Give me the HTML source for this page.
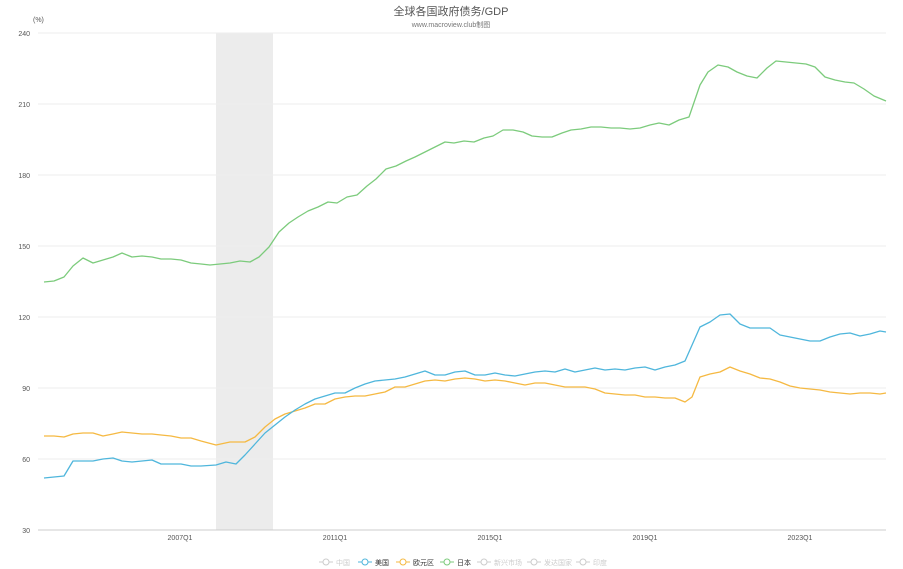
<!DOCTYPE html><html><head><meta charset="utf-8"><style>body{margin:0;background:#fff}svg{display:block}text{font-family:"Liberation Sans","Noto Sans CJK SC",sans-serif}</style></head><body>
<svg width="903" height="569" xmlns="http://www.w3.org/2000/svg">
<text x="451" y="15" font-size="11" fill="#555" text-anchor="middle">全球各国政府债务/GDP</text>
<text x="451" y="27" font-size="7" fill="#777" text-anchor="middle">www.macroview.club制图</text>
<text x="33" y="22" font-size="7" fill="#555">(%)</text>
<rect x="216" y="33" width="57" height="497" fill="#ececec"/>
<g stroke="#eee" stroke-width="1">
<line x1="38" y1="33" x2="886" y2="33"/><line x1="38" y1="104" x2="886" y2="104"/><line x1="38" y1="175" x2="886" y2="175"/><line x1="38" y1="246" x2="886" y2="246"/><line x1="38" y1="317" x2="886" y2="317"/><line x1="38" y1="388" x2="886" y2="388"/><line x1="38" y1="459" x2="886" y2="459"/></g>
<line x1="38" y1="530" x2="886" y2="530" stroke="#ccc"/>
<g font-size="7" fill="#555" text-anchor="end">
<text x="30" y="36">240</text><text x="30" y="107">210</text><text x="30" y="178">180</text><text x="30" y="249">150</text><text x="30" y="320">120</text><text x="30" y="391">90</text><text x="30" y="462">60</text><text x="30" y="533">30</text></g>
<g font-size="7" fill="#555" text-anchor="middle">
<text x="180" y="540">2007Q1</text><text x="335" y="540">2011Q1</text><text x="490" y="540">2015Q1</text><text x="645" y="540">2019Q1</text><text x="800" y="540">2023Q1</text></g>
<g fill="none" stroke-width="1.3" stroke-linejoin="round">
<polyline stroke="#7ccb7c" points="44,282 54,281 64,277 73,266 83,258 93,263 103,260 113,257 122,253 132,257 142,256 152,257 161,259 171,259 181,260 191,263 201,264 210,265 220,264 230,263 240,261 250,262 259,257 269,247 279,232 289,223 298,217 308,211 318,207 328,202 337,203 347,197 357,195 367,186 376,179 386,169 396,166 406,161 415,157 425,152 435,147 445,142 454,143 464,141 474,142 484,138 493,136 503,130 513,130 523,132 532,136 542,137 552,137 562,133 571,130 581,129 591,127 601,127 611,128 620,128 630,129 640,128 650,125 659,123 669,125 679,120 689,117 700,85 708,72 718,65 728,67 737,72 747,76 757,78 767,68 776,61 786,62 796,63 806,64 815,67 825,77 835,80 845,82 854,83 864,89 874,96 886,101"/>
<polyline stroke="#f5b942" points="44,436 54,436 64,437 73,434 83,433 93,433 103,436 113,434 122,432 132,433 142,434 152,434 161,435 171,436 181,438 191,438 201,441 216,445 230,442 245,442 255,437 265,427 275,419 285,414 295,411 305,408 315,404 325,404 335,399 345,397 355,396 365,396 375,394 385,392 395,387 405,387 415,384 425,381 435,380 445,381 455,379 465,378 475,379 485,381 495,380 505,381 515,383 525,385 535,383 545,383 555,385 565,387 575,387 585,387 595,389 605,393 615,394 625,395 635,395 645,397 655,397 665,398 675,398 685,402 692,397 700,377 710,374 720,372 730,367 740,371 750,374 760,378 770,379 780,382 790,386 800,388 810,389 820,390 830,392 840,393 850,394 860,393 870,393 880,394 886,393"/>
<polyline stroke="#4fb6dc" points="44,478 54,477 64,476 73,461 83,461 93,461 103,459 113,458 122,461 132,462 142,461 152,460 161,464 171,464 181,464 191,466 201,466 216,465 226,462 236,464 245,455 255,444 265,433 275,425 285,417 295,410 305,404 315,399 325,396 335,393 345,393 355,388 365,384 375,381 385,380 395,379 405,377 415,374 425,371 435,375 445,375 455,372 465,371 475,375 485,375 495,373 505,375 515,376 525,374 535,372 545,371 555,372 565,369 575,372 585,370 595,368 605,370 615,369 625,370 635,368 645,367 655,370 665,367 675,365 685,361 700,327 710,322 720,315 730,314 740,324 750,328 760,328 770,328 780,335 790,337 800,339 810,341 820,341 830,337 840,334 850,333 860,336 870,334 880,331 886,332"/>
</g>
<g font-size="7">
<g stroke="#ccc" fill="#fff"><line x1="319" y1="562" x2="333" y2="562"/><circle cx="326" cy="562" r="3"/></g><text x="336" y="565" fill="#ccc">中国</text>
<g stroke="#4fb6dc" fill="#fff"><line x1="358" y1="562" x2="372" y2="562"/><circle cx="365" cy="562" r="3"/></g><text x="375" y="565" fill="#333">美国</text>
<g stroke="#f5b942" fill="#fff"><line x1="396" y1="562" x2="410" y2="562"/><circle cx="403" cy="562" r="3"/></g><text x="413" y="565" fill="#333">欧元区</text>
<g stroke="#7ccb7c" fill="#fff"><line x1="440" y1="562" x2="454" y2="562"/><circle cx="447" cy="562" r="3"/></g><text x="457" y="565" fill="#333">日本</text>
<g stroke="#ccc" fill="#fff"><line x1="477" y1="562" x2="491" y2="562"/><circle cx="484" cy="562" r="3"/></g><text x="494" y="565" fill="#ccc">新兴市场</text>
<g stroke="#ccc" fill="#fff"><line x1="527" y1="562" x2="541" y2="562"/><circle cx="534" cy="562" r="3"/></g><text x="544" y="565" fill="#ccc">发达国家</text>
<g stroke="#ccc" fill="#fff"><line x1="576" y1="562" x2="590" y2="562"/><circle cx="583" cy="562" r="3"/></g><text x="593" y="565" fill="#ccc">印度</text>
</g>
</svg></body></html>
